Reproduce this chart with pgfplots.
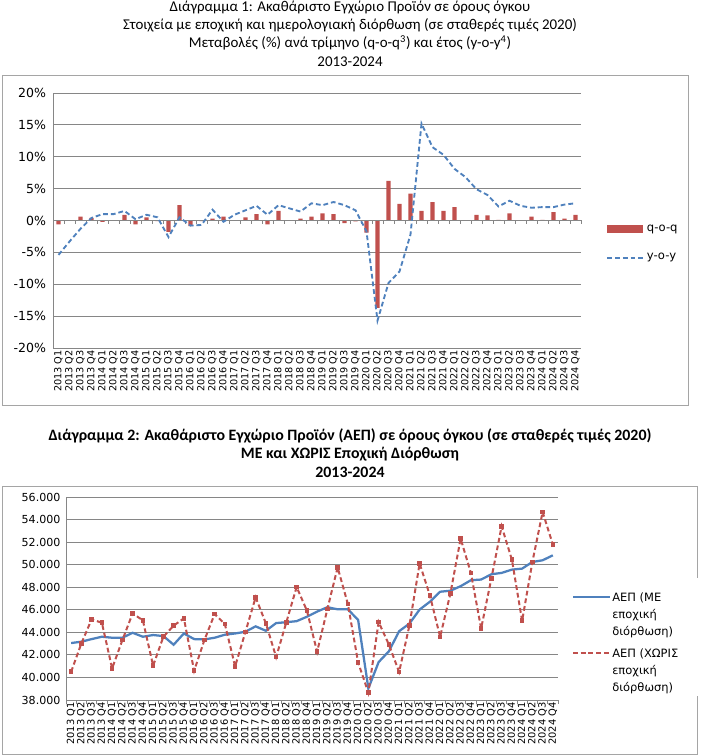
\documentclass[border=0pt]{standalone}
\usepackage{pgfplots}
\usepackage{pgfplotstable}
\pgfplotsset{compat=1.18}
\usepackage{fontspec}
\setmainfont{Carlito}
\newfontfamily\tickfont{DejaVu Sans}
\definecolor{barred}{RGB}{192,80,77}
\definecolor{lineblue}{RGB}{79,129,189}
\definecolor{gridgray}{RGB}{134,134,134}
\definecolor{framegray}{RGB}{165,165,165}

\pgfplotstableread{
i qoq yoy
0 -0.6 -5.4
1 0.05 -3.3
2 0.6 -1.3
3 0.4 0.4
4 -0.2 1.0
5 0.05 1.0
6 0.9 1.5
7 -0.6 0.2
8 0.5 0.9
9 -0.1 0.5
10 -1.8 -2.6
11 2.4 0.5
12 -0.9 -0.8
13 -0.1 -0.7
14 0.3 1.7
15 0.6 -0.2
16 0.05 0.9
17 0.5 1.6
18 1.0 2.3
19 -0.6 0.9
20 1.5 2.4
21 0.05 1.9
22 0.3 1.4
23 0.6 2.7
24 1.1 2.4
25 1.0 2.9
26 -0.4 2.4
27 -0.15 1.6
28 -1.9 -1.7
29 -13.7 -15.7
30 6.2 -9.8
31 2.6 -8.0
32 4.2 -2.2
33 1.5 15.2
34 2.9 11.5
35 1.5 10.3
36 2.1 8.1
37 0.05 6.8
38 0.9 4.9
39 0.8 4.0
40 0.1 2.2
41 1.1 3.1
42 0.05 2.3
43 0.6 2.0
44 0.1 2.1
45 1.3 2.1
46 0.3 2.5
47 0.9 2.7
}\tableone

\pgfplotstableread{
i sa nsa
0 43050 40500
1 43170 43020
2 43400 45150
3 43610 44850
4 43520 40800
5 43520 43310
6 43960 45680
7 43610 45060
8 43760 41040
9 43670 43610
10 42900 44590
11 43900 45240
12 43400 40590
13 43370 43310
14 43520 45620
15 43790 44730
16 43900 40980
17 44050 44020
18 44530 47100
19 44140 44800
20 44820 41800
21 44900 44900
22 44990 48020
23 45380 45930
24 45840 42280
25 46230 46060
26 46040 49760
27 46040 46510
28 45100 41330
29 39030 38650
30 41360 44910
31 42320 42920
32 44100 40480
33 44770 44590
34 46020 50110
35 46710 47270
36 47600 43600
37 47690 47440
38 48090 52310
39 48620 49270
40 48680 44340
41 49150 48770
42 49270 53400
43 49560 50450
44 49650 45020
45 50240 50240
46 50390 54670
47 50830 51780
}\tabletwo

\begin{document}
\begin{tikzpicture}
\path[use as bounding box] (0,0) rectangle (525pt,566.25pt);
% ---------- Titles and frames ----------
\draw[framegray, line width=0.6pt] (1.5pt,262.5pt) rectangle (516pt,510pt);
\draw[framegray, line width=0.6pt] (1.5pt,0.75pt) rectangle (522.75pt,201.75pt);
\begin{scope}[every node/.style={font=\fontsize{11.2}{13}\selectfont, inner sep=0pt}]
\node at (262.5pt,560.25pt) {Διάγραμμα 1: Ακαθάριστο Εγχώριο Προϊόν σε όρους όγκου};
\node at (262.5pt,547.5pt) {Στοιχεία με εποχική και ημερολογιακή διόρθωση (σε σταθερές τιμές 2020)};
\node at (262.5pt,534pt) {Μεταβολές (\%) ανά τρίμηνο (q-o-q\textsuperscript{3}) και έτος (y-o-y\textsuperscript{4})};
\node at (262.5pt,519.75pt) {2013-2024};
\end{scope}
\begin{scope}[every node/.style={font=\bfseries\fontsize{11.9}{13}\selectfont, inner sep=0pt}]
\node at (262.5pt,239.25pt) {Διάγραμμα 2: Ακαθάριστο Εγχώριο Προϊόν (ΑΕΠ) σε όρους όγκου (σε σταθερές τιμές 2020)};
\node at (262.5pt,225.75pt) {ΜΕ και ΧΩΡΙΣ Εποχική Διόρθωση};
\node at (262.5pt,212.25pt) {2013-2024};
\end{scope}

% ---------- Chart 1 ----------
\begin{axis}[
  at={(39.75pt,305.25pt)}, anchor=south west, scale only axis,
  width=396pt, height=191.25pt,
  xmin=-0.5, xmax=47.5, ymin=-20, ymax=20,
  axis y line*=left, axis x line*=bottom,
  x axis line style={draw=none}, y axis line style={draw=gridgray, line width=0.6pt},
  ymajorgrids, grid style={gridgray, line width=0.6pt},
  ytick={-20,-15,...,20},
  yticklabels={-20\%,-15\%,-10\%,-5\%,0\%,5\%,10\%,15\%,20\%},
  major tick length=0pt,
  xtick={0,...,47},
  xticklabels={2013 Q1,2013 Q2,2013 Q3,2013 Q4,2014 Q1,2014 Q2,2014 Q3,2014 Q4,2015 Q1,2015 Q2,2015 Q3,2015 Q4,2016 Q1,2016 Q2,2016 Q3,2016 Q4,2017 Q1,2017 Q2,2017 Q3,2017 Q4,2018 Q1,2018 Q2,2018 Q3,2018 Q4,2019 Q1,2019 Q2,2019 Q3,2019 Q4,2020 Q1,2020 Q2,2020 Q3,2020 Q4,2021 Q1,2021 Q2,2021 Q3,2021 Q4,2022 Q1,2022 Q2,2022 Q3,2022 Q4,2023 Q1,2023 Q2,2023 Q3,2023 Q4,2024 Q1,2024 Q2,2024 Q3,2024 Q4},
  xticklabel style={rotate=90, anchor=east, inner sep=1.5pt, font=\tickfont\fontsize{7.3}{8}\selectfont},
  yticklabel style={font=\tickfont\fontsize{9.4}{10}\selectfont, inner sep=0pt, xshift=-5pt},
  legend style={at={(1.04,0.41)}, anchor=west, draw=none, fill=white,
    font=\tickfont\fontsize{8.7}{10}\selectfont, row sep=11pt},
  legend cell align=left,
  clip=false,
]
\addplot[ybar, bar width=3.3pt, fill=barred, draw=none,
  legend image code/.code={\fill[barred] (0pt,-2.8pt) rectangle (27pt,2.8pt);}]
  table[x=i,y=qoq]{\tableone};
\addlegendentry{q-o-q}
\draw[gridgray, line width=0.6pt] (axis cs:-0.5,0) -- (axis cs:47.5,0);
\pgfplotsinvokeforeach{-0.5,0.5,...,47.5}{\draw[gridgray, line width=0.5pt] (axis cs:#1,0) -- ++(0pt,-2.5pt);}
\addplot[lineblue, line width=1.4pt, dash pattern=on 3.6pt off 2.2pt, mark=none,
  legend image code/.code={\draw[lineblue, line width=1.4pt, dash pattern=on 3.6pt off 2.2pt] (0pt,0pt) -- (27pt,0pt);}]
  table[x=i,y=yoy]{\tableone};
\addlegendentry{y-o-y}
\end{axis}

% ---------- Chart 2 ----------
\begin{axis}[
  at={(49.5pt,41.25pt)}, anchor=south west, scale only axis,
  width=369pt, height=152.25pt,
  xmin=-0.5, xmax=47.5, ymin=38000, ymax=56000,
  scaled y ticks=false,
  axis y line*=left, axis x line*=bottom,
  x axis line style={draw=gridgray, line width=0.6pt}, y axis line style={draw=gridgray, line width=0.6pt},
  ymajorgrids, grid style={gridgray, line width=0.6pt},
  ytick={38000,40000,...,56000},
  yticklabels={38.000,40.000,42.000,44.000,46.000,48.000,50.000,52.000,54.000,56.000},
  major tick length=0pt,
  xtick={0,...,47},
  xticklabels={2013 Q1,2013 Q2,2013 Q3,2013 Q4,2014 Q1,2014 Q2,2014 Q3,2014 Q4,2015 Q1,2015 Q2,2015 Q3,2015 Q4,2016 Q1,2016 Q2,2016 Q3,2016 Q4,2017 Q1,2017 Q2,2017 Q3,2017 Q4,2018 Q1,2018 Q2,2018 Q3,2018 Q4,2019 Q1,2019 Q2,2019 Q3,2019 Q4,2020 Q1,2020 Q2,2020 Q3,2020 Q4,2021 Q1,2021 Q2,2021 Q3,2021 Q4,2022 Q1,2022 Q2,2022 Q3,2022 Q4,2023 Q1,2023 Q2,2023 Q3,2023 Q4,2024 Q1,2024 Q2,2024 Q3,2024 Q4},
  xticklabel style={rotate=90, anchor=east, inner sep=1.5pt, font=\tickfont\fontsize{7.4}{8}\selectfont},
  yticklabel style={font=\tickfont\fontsize{8.3}{10}\selectfont, inner sep=0pt, xshift=-4pt},
  clip=false,
]
\pgfplotsinvokeforeach{-0.5,0.5,...,47.5}{\draw[gridgray, line width=0.5pt] (axis cs:#1,38000) -- ++(0pt,-3pt);}
\addplot[lineblue, line width=1.7pt, mark=none]
  table[x=i,y=sa]{\tabletwo};
\addplot[barred, line width=1.5pt, dash pattern=on 3.6pt off 2.2pt, mark=square*, mark size=1.0pt,
  mark options={solid}]
  table[x=i,y=nsa]{\tabletwo};
% legend
\fill[white] (rel axis cs:1.012,0.6) rectangle (rel axis cs:1.36,0.02);
\draw[lineblue, line width=1.7pt] (rel axis cs:1.0305,0.507) -- ++(28pt,0pt);
\node[anchor=north west, align=left, inner sep=0pt, font=\tickfont\fontsize{8.6}{12.75}\selectfont]
  at ([yshift=3.5pt]rel axis cs:1.1098,0.507) {ΑΕΠ (ΜΕ\\εποχική\\διόρθωση)};
\draw[barred, line width=1.5pt, dash pattern=on 3.6pt off 2.2pt] (rel axis cs:1.0305,0.2315) -- ++(28pt,0pt);
\fill[barred] ([xshift=12.7pt,yshift=-1.1pt]rel axis cs:1.0305,0.2315) rectangle ++(2.2pt,2.2pt);
\node[anchor=north west, align=left, inner sep=0pt, font=\tickfont\fontsize{8.6}{12.75}\selectfont]
  at ([yshift=3.5pt]rel axis cs:1.1098,0.2315) {ΑΕΠ (ΧΩΡΙΣ\\εποχική\\διόρθωση)};
\end{axis}
\end{tikzpicture}
\end{document}
